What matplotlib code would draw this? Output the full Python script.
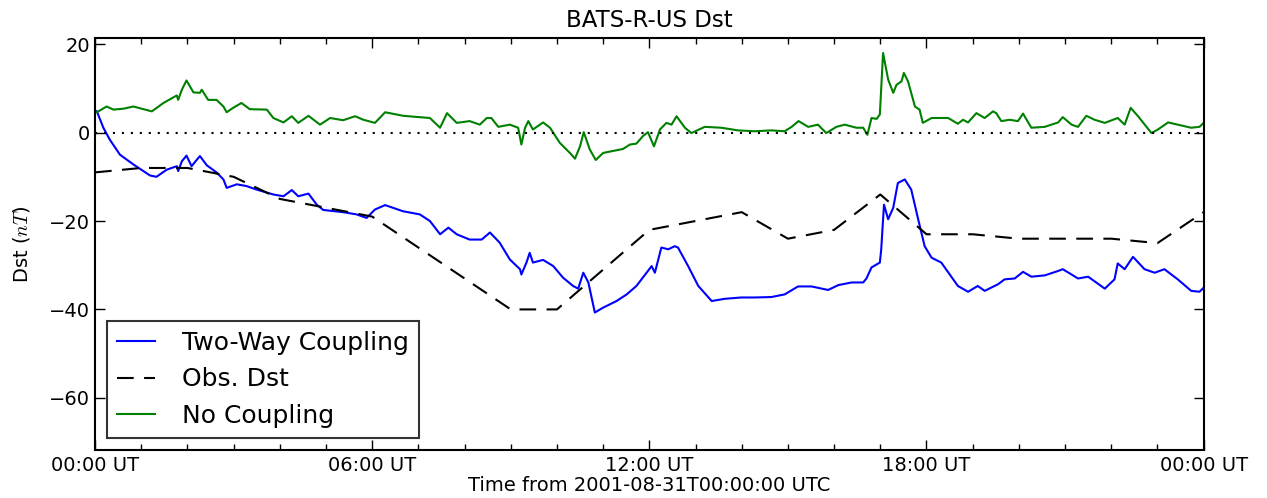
"""BATS-R-US Dst comparison: two-way coupling vs. no coupling vs. observed Dst."""

import matplotlib

matplotlib.use("Agg")
import matplotlib.pyplot as plt
from matplotlib.ticker import FuncFormatter, MultipleLocator

plt.rcParams["font.family"] = ["DejaVu Sans"]
plt.rcParams["mathtext.fontset"] = "cm"

# Observed Dst, hourly (hours from 2001-08-31T00:00 UTC)
obs_hours = list(range(25))
obs_dst = [-9, -8, -8, -10, -15, -17, -19, -26, -33, -40, -40, -31, -22,
           -20, -18, -24, -22, -14, -23, -23, -24, -24, -24, -25, -18]

# Two-way coupling run
two_way_hours = [
    0.0, 0.04, 0.18, 0.32, 0.54, 0.83, 1.19, 1.33, 1.55, 1.77, 1.80, 1.88,
    1.98, 2.09, 2.27, 2.42, 2.63, 2.78, 2.85, 3.07, 3.28, 3.50, 3.86, 4.08,
    4.26, 4.40, 4.62, 4.80, 4.94, 5.37, 5.66, 5.88, 6.06, 6.28, 6.67, 7.03,
    7.25, 7.47, 7.65, 7.83, 8.11, 8.37, 8.55, 8.76, 8.98, 9.20, 9.23, 9.34,
    9.41, 9.48, 9.70, 9.92, 10.13, 10.35, 10.46, 10.57, 10.68, 10.82, 11.00,
    11.29, 11.51, 11.72, 11.94, 12.05, 12.12, 12.26, 12.41, 12.55, 12.62,
    12.84, 13.06, 13.35, 13.63, 13.99, 14.28, 14.64, 14.93, 15.22, 15.51,
    15.87, 16.09, 16.38, 16.63, 16.70, 16.81, 16.99, 17.02, 17.08, 17.17,
    17.28, 17.38, 17.53, 17.67, 17.82, 17.96, 18.11, 18.32, 18.68, 18.90,
    19.11, 19.26, 19.55, 19.69, 19.91, 20.09, 20.27, 20.56, 20.85, 20.95,
    21.14, 21.28, 21.50, 21.86, 22.07, 22.14, 22.29, 22.47, 22.72, 22.94,
    23.15, 23.44, 23.73, 23.91, 24.0,
]
two_way_dst = [
    5.0, 4.8, 1.1, -1.6, -5.0, -7.2, -9.7, -10.0, -8.4, -7.6, -8.7, -6.5,
    -5.2, -7.6, -5.3, -7.4, -9.0, -10.6, -12.5, -11.7, -12.1, -12.9, -14.0,
    -14.4, -13.0, -14.4, -13.8, -16.3, -17.5, -18.0, -18.5, -19.3, -17.4,
    -16.4, -17.8, -18.5, -20.0, -23.0, -21.5, -23.0, -24.2, -24.2, -22.6,
    -24.9, -28.7, -30.9, -32.1, -29.4, -27.2, -29.4, -28.8, -30.2, -32.8,
    -34.7, -35.3, -31.7, -33.9, -40.7, -39.6, -38.1, -36.6, -34.7, -31.7,
    -30.2, -31.7, -26.0, -26.4, -25.7, -26.0, -30.2, -34.7, -38.1, -37.6,
    -37.3, -37.3, -37.2, -36.6, -34.8, -34.8, -35.6, -34.5, -33.9, -33.9,
    -33.0, -30.5, -29.4, -26.4, -16.3, -19.6, -17.0, -11.4, -10.6, -12.9,
    -19.6, -25.7, -28.3, -29.4, -34.7, -36.0, -34.7, -35.8, -34.3, -33.2,
    -33.0, -31.5, -32.6, -32.3, -31.3, -30.9, -32.1, -33.0, -32.6, -35.3,
    -33.2, -29.6, -30.9, -28.1, -30.9, -31.7, -30.9, -33.2, -35.8, -36.0,
    -35.1,
]

# No coupling run
no_coup_hours = [
    0.0, 0.04, 0.25, 0.40, 0.61, 0.83, 1.05, 1.23, 1.48, 1.77, 1.80, 1.88,
    1.98, 2.13, 2.27, 2.31, 2.45, 2.63, 2.78, 2.85, 2.99, 3.17, 3.35, 3.72,
    3.86, 4.08, 4.26, 4.40, 4.62, 4.87, 5.09, 5.37, 5.63, 5.81, 6.06, 6.28,
    6.67, 7.03, 7.25, 7.47, 7.62, 7.83, 8.11, 8.33, 8.48, 8.58, 8.73, 8.98,
    9.16, 9.23, 9.31, 9.38, 9.48, 9.70, 9.85, 10.06, 10.28, 10.39, 10.50,
    10.58, 10.71, 10.84, 11.00, 11.29, 11.43, 11.58, 11.72, 11.86, 11.97,
    12.10, 12.23, 12.37, 12.48, 12.59, 12.77, 12.91, 13.20, 13.56, 13.92,
    14.28, 14.64, 14.93, 15.08, 15.23, 15.44, 15.65, 15.83, 16.05, 16.23,
    16.48, 16.63, 16.72, 16.81, 16.92, 16.99, 17.06, 17.17, 17.28, 17.35,
    17.46, 17.51, 17.60, 17.75, 17.85, 17.92, 18.11, 18.25, 18.47, 18.68,
    18.79, 18.90, 19.08, 19.26, 19.44, 19.51, 19.62, 19.80, 19.98, 20.09,
    20.27, 20.56, 20.85, 20.95, 21.14, 21.28, 21.46, 21.64, 21.86, 22.14,
    22.29, 22.42, 22.58, 22.87, 23.01, 23.23, 23.44, 23.73, 23.91, 24.0,
]
no_coup_dst = [
    4.6, 4.6, 5.9, 5.2, 5.4, 5.9, 5.3, 4.8, 6.7, 8.4, 7.4, 9.7, 11.8, 9.1,
    9.0, 9.7, 7.4, 7.4, 5.9, 4.6, 5.6, 6.7, 5.3, 5.2, 3.3, 2.3, 3.7, 2.2,
    3.8, 1.8, 3.3, 2.8, 3.7, 2.9, 2.2, 4.6, 3.8, 3.5, 3.3, 1.1, 4.4, 2.2,
    2.6, 1.8, 3.3, 3.3, 1.3, 1.8, 1.1, -2.7, 1.1, 2.6, 0.7, 2.3, 1.1, -2.3,
    -4.6, -5.9, -3.1, 0.1, -3.8, -6.2, -4.6, -4.0, -3.7, -2.7, -2.5, -0.8,
    0.1, -3.1, 0.7, 2.2, 1.8, 3.7, 1.1, -0.1, 1.3, 1.1, 0.5, 0.3, 0.5, 0.3,
    1.3, 2.6, 1.3, 1.8, -0.1, 1.3, 1.8, 1.1, 1.1, -0.5, 3.3, 3.1, 4.1, 18.0,
    12.0, 9.0, 10.8, 11.6, 13.5, 11.6, 5.9, 5.2, 2.2, 3.3, 3.3, 3.3, 2.0,
    2.9, 2.3, 4.4, 3.3, 4.8, 4.4, 2.6, 2.9, 2.6, 4.3, 1.1, 1.3, 2.3, 3.5,
    1.8, 1.3, 3.8, 2.9, 2.2, 3.3, 1.8, 5.6, 3.7, -0.1, 0.7, 2.3, 1.8, 1.1,
    1.3, 2.2,
]


def hour_label(h, pos):
    return "%02d:00 UT" % (int(round(h)) % 24)


fig = plt.figure(figsize=(12.67, 4.98), dpi=100)
ax = fig.add_axes([0.075, 0.0964, 0.875, 0.8273])

ax.plot(two_way_hours, two_way_dst, color="#0000ff", lw=1.5, label="Two-Way Coupling")
ax.plot(obs_hours, obs_dst, "k--", lw=1.5, dashes=(8, 5), label="Obs. Dst")
ax.plot(no_coup_hours, no_coup_dst, color="#008000", lw=1.5, label="No Coupling")
ax.axhline(0, color="k", ls=":", lw=1.5, dashes=(1, 3.3))

ax.set_xlim(0, 24)
ax.set_ylim(-71.8, 21.4)
ax.xaxis.set_major_locator(MultipleLocator(6))
ax.xaxis.set_minor_locator(MultipleLocator(1))
ax.xaxis.set_major_formatter(FuncFormatter(hour_label))
ax.yaxis.set_major_locator(MultipleLocator(20))
ax.tick_params(which="both", direction="in", top=True, right=True, labelsize=14)
ax.tick_params(which="major", length=7, width=1)
ax.tick_params(which="minor", length=4, width=1)
ax.tick_params(axis="x", which="major", pad=4)
for sp in ax.spines.values():
    sp.set_linewidth(1.5)

ax.set_title("BATS-R-US Dst", fontsize=16.5, pad=8)
ax.set_xlabel("Time from 2001-08-31T00:00:00 UTC", fontsize=14, labelpad=1)
ax.set_ylabel("Dst ($nT$)", fontsize=14, labelpad=12)

leg = ax.legend(loc="lower left", fontsize=18, fancybox=False, frameon=True,
                handlelength=1.5, borderpad=0.4, labelspacing=0.5,
                handletextpad=1.1, borderaxespad=0.48)
leg.get_frame().set_edgecolor("black")
leg.get_frame().set_linewidth(1.5)

fig.savefig("out.png", dpi=100)
